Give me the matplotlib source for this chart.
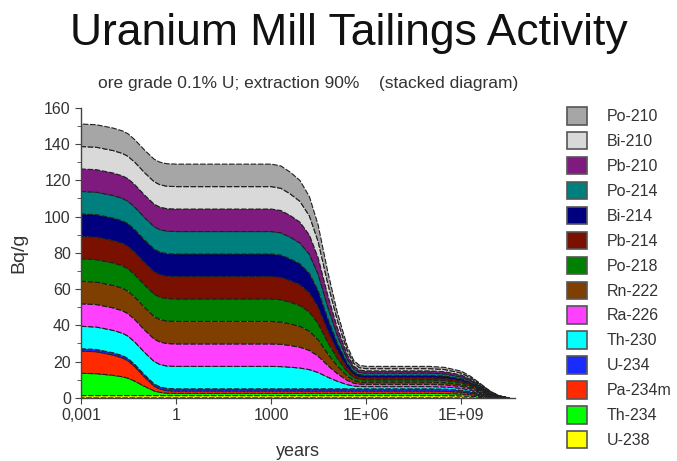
import matplotlib.pyplot as plt
from matplotlib.patches import Patch
from matplotlib.ticker import FixedLocator, MultipleLocator

# time axis (years), activities in Bq/g
years = [0.001, 0.003, 0.01, 0.02, 0.03, 0.05, 0.1, 0.2, 0.3, 0.5, 1, 10, 100, 1000,
         2000, 4000, 8000, 16000, 30000, 60000, 120000, 250000, 400000, 600000,
         1e6, 1e7, 1e8, 3e8, 1e9, 2e9, 4e9, 8e9, 1.5e10, 2.5e10, 3.2e10]

# bottom to top of the stack
u238 = [1.24, 1.24, 1.24, 1.24, 1.24, 1.24, 1.24, 1.24, 1.24, 1.24, 1.24, 1.24, 1.24, 1.24,
        1.24, 1.24, 1.24, 1.24, 1.24, 1.24, 1.24, 1.24, 1.24, 1.24,
        1.24, 1.24, 1.24, 1.2, 1.05, 0.84, 0.56, 0.27, 0.09, 0.02, 0.0]
th234 = [12.3, 12.1, 11.2, 10.4, 9.6, 7.9, 5.1, 2.6, 1.8, 1.35, 1.24, 1.24, 1.24, 1.24,
         1.24, 1.24, 1.24, 1.24, 1.24, 1.24, 1.24, 1.24, 1.24, 1.24,
         1.24, 1.24, 1.24, 1.2, 1.05, 0.84, 0.56, 0.27, 0.09, 0.02, 0.0]
pa234m = [12.3, 12.1, 11.2, 10.4, 9.6, 7.9, 5.1, 2.6, 1.8, 1.35, 1.24, 1.24, 1.24, 1.24,
          1.24, 1.24, 1.24, 1.24, 1.24, 1.24, 1.24, 1.24, 1.24, 1.24,
          1.24, 1.24, 1.24, 1.2, 1.05, 0.84, 0.56, 0.27, 0.09, 0.02, 0.0]
u234 = [1.24, 1.24, 1.24, 1.24, 1.24, 1.24, 1.24, 1.24, 1.24, 1.24, 1.24, 1.24, 1.24, 1.24,
        1.24, 1.24, 1.24, 1.24, 1.24, 1.24, 1.24, 1.24, 1.24, 1.24,
        1.24, 1.24, 1.24, 1.2, 1.05, 0.84, 0.56, 0.27, 0.09, 0.02, 0.0]
th230 = [12.4, 12.4, 12.4, 12.4, 12.4, 12.4, 12.4, 12.4, 12.4, 12.4, 12.4, 12.4, 12.4, 12.4,
         12.3, 11.95, 11.5, 10.6, 9.05, 6.5, 4.25, 2.35, 1.57, 1.3,
         1.24, 1.24, 1.24, 1.2, 1.05, 0.84, 0.56, 0.27, 0.09, 0.02, 0.0]
ra226 = [12.4, 12.4, 12.4, 12.4, 12.4, 12.4, 12.4, 12.4, 12.4, 12.4, 12.4, 12.4, 12.4, 12.4,
         12.3, 11.95, 11.5, 10.6, 9.05, 6.5, 4.25, 2.35, 1.57, 1.3,
         1.24, 1.24, 1.24, 1.2, 1.05, 0.84, 0.56, 0.27, 0.09, 0.02, 0.0]
rn222 = [12.4, 12.4, 12.4, 12.4, 12.4, 12.4, 12.4, 12.4, 12.4, 12.4, 12.4, 12.4, 12.4, 12.4,
         12.3, 11.95, 11.5, 10.6, 9.05, 6.5, 4.25, 2.35, 1.57, 1.3,
         1.24, 1.24, 1.24, 1.2, 1.05, 0.84, 0.56, 0.27, 0.09, 0.02, 0.0]
po218 = [12.4, 12.4, 12.4, 12.4, 12.4, 12.4, 12.4, 12.4, 12.4, 12.4, 12.4, 12.4, 12.4, 12.4,
         12.3, 11.95, 11.5, 10.6, 9.05, 6.5, 4.25, 2.35, 1.57, 1.3,
         1.24, 1.24, 1.24, 1.2, 1.05, 0.84, 0.56, 0.27, 0.09, 0.02, 0.0]
pb214 = [12.4, 12.4, 12.4, 12.4, 12.4, 12.4, 12.4, 12.4, 12.4, 12.4, 12.4, 12.4, 12.4, 12.4,
         12.3, 11.95, 11.5, 10.6, 9.05, 6.5, 4.25, 2.35, 1.57, 1.3,
         1.24, 1.24, 1.24, 1.2, 1.05, 0.84, 0.56, 0.27, 0.09, 0.02, 0.0]
bi214 = [12.4, 12.4, 12.4, 12.4, 12.4, 12.4, 12.4, 12.4, 12.4, 12.4, 12.4, 12.4, 12.4, 12.4,
         12.3, 11.95, 11.5, 10.6, 9.05, 6.5, 4.25, 2.35, 1.57, 1.3,
         1.24, 1.24, 1.24, 1.2, 1.05, 0.84, 0.56, 0.27, 0.09, 0.02, 0.0]
po214 = [12.4, 12.4, 12.4, 12.4, 12.4, 12.4, 12.4, 12.4, 12.4, 12.4, 12.4, 12.4, 12.4, 12.4,
         12.3, 11.95, 11.5, 10.6, 9.05, 6.5, 4.25, 2.35, 1.57, 1.3,
         1.24, 1.24, 1.24, 1.2, 1.05, 0.84, 0.56, 0.27, 0.09, 0.02, 0.0]
pb210 = [12.4, 12.4, 12.4, 12.4, 12.4, 12.4, 12.4, 12.4, 12.4, 12.4, 12.4, 12.4, 12.4, 12.4,
         12.3, 11.95, 11.5, 10.6, 9.05, 6.5, 4.25, 2.35, 1.57, 1.3,
         1.24, 1.24, 1.24, 1.2, 1.05, 0.84, 0.56, 0.27, 0.09, 0.02, 0.0]
bi210 = [12.4, 12.4, 12.4, 12.4, 12.4, 12.4, 12.4, 12.4, 12.4, 12.4, 12.4, 12.4, 12.4, 12.4,
         12.3, 11.95, 11.5, 10.6, 9.05, 6.5, 4.25, 2.35, 1.57, 1.3,
         1.24, 1.24, 1.24, 1.2, 1.05, 0.84, 0.56, 0.27, 0.09, 0.02, 0.0]
po210 = [12.4, 12.4, 12.4, 12.4, 12.4, 12.4, 12.4, 12.4, 12.4, 12.4, 12.4, 12.4, 12.4, 12.4,
         12.3, 11.95, 11.5, 10.6, 9.05, 6.5, 4.25, 2.35, 1.57, 1.3,
         1.24, 1.24, 1.24, 1.2, 1.05, 0.84, 0.56, 0.27, 0.09, 0.02, 0.0]

nuclides = ['U-238', 'Th-234', 'Pa-234m', 'U-234', 'Th-230', 'Ra-226', 'Rn-222',
            'Po-218', 'Pb-214', 'Bi-214', 'Po-214', 'Pb-210', 'Bi-210', 'Po-210']
colors = ['#ffff00', '#00ff00', '#ff2a00', '#1a2bff', '#00ffff', '#ff40ff', '#7f3f00',
          '#007f00', '#7a1000', '#00007f', '#007f7f', '#7f1a7f', '#d9d9d9', '#a6a6a6']

xtick_pos = [0.001, 1, 1000, 1e6, 1e9]
xtick_lab = ['0,001', '1', '1000', '1E+06', '1E+09']

plt.rcParams['font.family'] = ['Liberation Sans', 'DejaVu Sans']
txt = '#333333'

fig = plt.figure(figsize=(6.77, 4.61), dpi=100)
ax = fig.add_axes([0.12, 0.137, 0.641, 0.629])

layers = [u238, th234, pa234m, u234, th230, ra226, rn222,
          po218, pb214, bi214, po214, pb210, bi210, po210]
ax.stackplot(years, layers, colors=colors, edgecolor='#202020',
             linewidth=0.8, linestyle=(0, (5, 1.5)))

ax.set_xscale('log')
ax.set_xlim(0.001, 5e10)
ax.set_ylim(0, 160)
ax.xaxis.set_major_locator(FixedLocator(xtick_pos))
ax.set_xticklabels(xtick_lab)
ax.xaxis.set_minor_locator(FixedLocator([]))
ax.yaxis.set_major_locator(MultipleLocator(20))
ax.yaxis.set_minor_locator(MultipleLocator(10))

for s in ['top', 'right']:
    ax.spines[s].set_visible(False)
for s in ['left', 'bottom']:
    ax.spines[s].set_color('#444444')
    ax.spines[s].set_linewidth(1.0)
ax.tick_params(which='major', length=4, color='#444444', labelsize=11.5, labelcolor=txt)
ax.tick_params(which='minor', length=3, color='#444444')

ax.set_xlabel('years', fontsize=13, color=txt, labelpad=14)
ax.set_ylabel('Bq/g', fontsize=14, color=txt, labelpad=12)

fig.text(0.515, 0.902, 'Uranium Mill Tailings Activity', ha='center', va='baseline',
         fontsize=32, color='#111111')
fig.text(0.455, 0.809, 'ore grade 0.1% U; extraction 90%    (stacked diagram)',
         ha='center', va='baseline', fontsize=12.5, color=txt)

handles = [Patch(facecolor=c, edgecolor='#555555', linewidth=1.2) for c in colors]
leg = fig.legend(handles[::-1], nuclides[::-1], loc='upper left',
                 bbox_to_anchor=(0.825, 0.785), frameon=False, fontsize=11.5,
                 handlelength=1.3, handleheight=1.3, labelspacing=0.47,
                 handletextpad=1.2, borderpad=0)
for t in leg.get_texts():
    t.set_color(txt)

fig.savefig('out.png', dpi=100)
